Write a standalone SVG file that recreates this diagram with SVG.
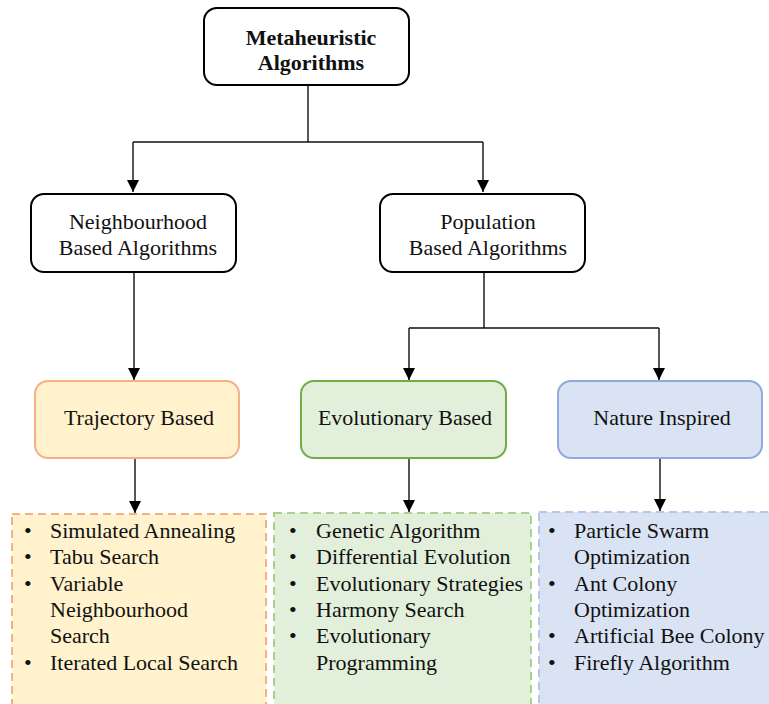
<svg xmlns="http://www.w3.org/2000/svg" width="769" height="704" viewBox="0 0 769 704">
<defs>
<marker id="arr" viewBox="0 0 12 12" markerWidth="12" markerHeight="12" refX="12" refY="6" orient="auto" markerUnits="userSpaceOnUse">
<path d="M0,0 L12,6 L0,12 Z" fill="#000"/>
</marker>
<style>
text{font-family:"Liberation Serif","Times New Roman",serif;font-size:22px;fill:#111}
.c{text-anchor:middle}
.b{font-weight:bold}
.box{fill:#fff;stroke:#000;stroke-width:2}
.con{fill:none;stroke:#111;stroke-width:1.4}
.conv{fill:none;stroke:#111;stroke-width:1.4;marker-end:url(#arr)}
.dash{stroke-width:2;stroke-dasharray:8 5}
</style>
</defs>
<rect width="769" height="704" fill="#fff"/>
<g id="connectors">
<path class="con" d="M308,85 V142 M133,142 H483"/>
<path class="conv" d="M133,142 V192"/>
<path class="conv" d="M483,142 V192"/>
<path class="conv" d="M134,272 V380"/>
<path class="con" d="M484,272 V328 M409,328 H659"/>
<path class="conv" d="M409,328 V380"/>
<path class="conv" d="M659,328 V380"/>
<path class="conv" d="M135,459 V513"/>
<path class="conv" d="M409,459 V512"/>
<path class="conv" d="M660,459 V511"/>
</g>
<g id="metaheuristic">
<rect class="box" x="204" y="8" width="205" height="77" rx="13"/>
<text class="c b" x="311" y="45">Metaheuristic</text>
<text class="c b" x="311" y="70">Algorithms</text>
</g>
<g id="neighbourhood">
<rect class="box" x="31" y="194" width="205" height="78" rx="13"/>
<text class="c" x="138" y="229">Neighbourhood</text>
<text class="c" x="138" y="255">Based Algorithms</text>
</g>
<g id="population">
<rect class="box" x="380" y="194" width="205" height="78" rx="13"/>
<text class="c" x="488" y="229">Population</text>
<text class="c" x="488" y="255">Based Algorithms</text>
</g>
<g id="trajectory">
<rect x="35" y="381" width="204" height="77" rx="13" fill="#FFF2CC" stroke="#F4B183" stroke-width="2"/>
<text class="c" x="139" y="425">Trajectory Based</text>
</g>
<g id="evolutionary">
<rect x="301" y="381" width="205" height="77" rx="13" fill="#E2EFDA" stroke="#70AD47" stroke-width="2"/>
<text class="c" x="405" y="425">Evolutionary Based</text>
</g>
<g id="nature">
<rect x="558" y="381" width="204" height="77" rx="13" fill="#DAE3F3" stroke="#8FAADC" stroke-width="2"/>
<text class="c" x="662" y="425">Nature Inspired</text>
</g>
<g id="trajectory-list">
<rect class="dash" x="12" y="514" width="254" height="200" fill="#FFF2CC" stroke="#F4B183"/>
<text x="24" y="538">•</text><text x="50" y="538">Simulated Annealing</text>
<text x="24" y="564">•</text><text x="50" y="564">Tabu Search</text>
<text x="24" y="591">•</text><text x="50" y="591">Variable</text>
<text x="50" y="617">Neighbourhood</text>
<text x="50" y="643">Search</text>
<text x="24" y="670">•</text><text x="50" y="670">Iterated Local Search</text>
</g>
<g id="evolutionary-list">
<rect class="dash" x="274" y="513" width="257" height="200" fill="#E2EFDA" stroke="#A9D18E"/>
<text x="289" y="538">•</text><text x="316" y="538">Genetic Algorithm</text>
<text x="289" y="564">•</text><text x="316" y="564">Differential Evolution</text>
<text x="289" y="591">•</text><text x="316" y="591">Evolutionary Strategies</text>
<text x="289" y="617">•</text><text x="316" y="617">Harmony Search</text>
<text x="289" y="643">•</text><text x="316" y="643">Evolutionary</text>
<text x="316" y="670">Programming</text>
</g>
<g id="nature-list">
<rect class="dash" x="539" y="512" width="240" height="200" fill="#DAE3F3" stroke="#B4C7E7"/>
<text x="548" y="538">•</text><text x="574" y="538">Particle Swarm</text>
<text x="574" y="564">Optimization</text>
<text x="548" y="591">•</text><text x="574" y="591">Ant Colony</text>
<text x="574" y="617">Optimization</text>
<text x="548" y="643">•</text><text x="574" y="643">Artificial Bee Colony</text>
<text x="548" y="670">•</text><text x="574" y="670">Firefly Algorithm</text>
</g>
</svg>
